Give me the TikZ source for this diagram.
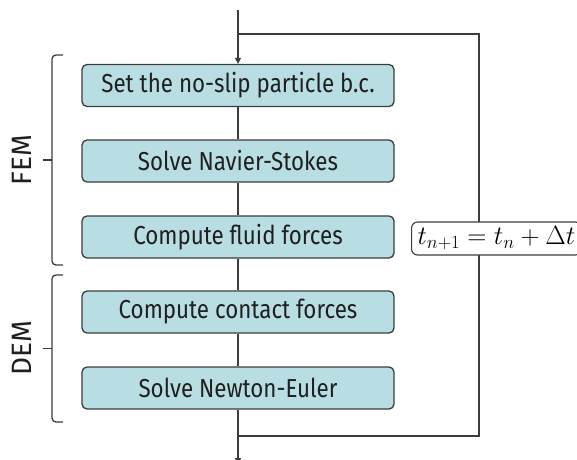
\RequirePackage{fix-cm}
\documentclass[tikz,border=0pt]{standalone}
\usepackage{fontspec}
\setmainfont{Fira Sans}[FakeStretch=0.86]
\newfontfamily\grpfont{Fira Sans}
\usetikzlibrary{arrows.meta}
\definecolor{boxfill}{HTML}{B8DEE4}
\definecolor{edge}{HTML}{3C3C3C}
\tikzset{
  stepbox/.style={draw=edge, line width=1.3pt, fill=boxfill, rounded corners=5pt,
    minimum width=312pt, minimum height=42pt, inner sep=0pt,
    font=\fontsize{26}{28}\selectfont, text=black!88},
  conn/.style={draw=edge, line width=1.3pt},
  tip/.style={-{Triangle[length=6pt,width=6pt]}},
  brace/.style={draw=edge, line width=1.3pt, rounded corners=4pt},
  grouplabel/.style={rotate=90, font=\grpfont\fontsize{28}{30}\selectfont, text=black!88},
  steplabel/.style={draw=edge, line width=1.1pt, fill=white, rounded corners=6pt,
    minimum height=33pt, inner xsep=6pt, inner ysep=0pt, font=\fontsize{26.5}{29}\selectfont, anchor=west}
}
\begin{document}
\begin{tikzpicture}[x=1pt,y=-1pt]
\useasboundingbox (0,0) rectangle (577,459);
\node[stepbox] (b1) at (238,85.5) {Set the no-slip particle b.c.};
\node[stepbox] (b2) at (238,161) {Solve Navier-Stokes};
\node[stepbox] (b3) at (238,237) {Compute fluid forces};
\node[stepbox] (b4) at (238,312) {Compute contact forces};
\node[stepbox] (b5) at (238,388) {Solve Newton-Euler};
\coordinate (top) at (238,10);
\coordinate (bot) at (238,464);
\coordinate (lt) at (238,34);
\coordinate (lb) at (238,436);
\coordinate (rt) at (479,34);
\coordinate (rb) at (479,436);
\draw[conn,tip] (top) -- (b1);
\draw[conn] (b1) -- (b2);
\draw[conn] (b2) -- (b3);
\draw[conn] (b3) -- (b4);
\draw[conn] (b4) -- (b5);
\draw[conn,tip] (b5) -- (bot);
\draw[conn] (lb) -- (rb) -- (rt) -- (lt);
\node[steplabel] (dt) at (411,238.5) {$t_{n+1} = t_n + \Delta t$};
% brackets
\draw[brace] (63,55) -- (52,55) -- (52,265) -- (63,265);
\draw[conn] (52,160) -- (43,160);
\draw[brace] (63,275) -- (52,275) -- (52,422) -- (63,422);
\draw[conn] (52,348.5) -- (43,348.5);
\node[grouplabel] (fem) at (22,160) {FEM};
\node[grouplabel] (dem) at (22,348.5) {DEM};
\end{tikzpicture}
\end{document}
